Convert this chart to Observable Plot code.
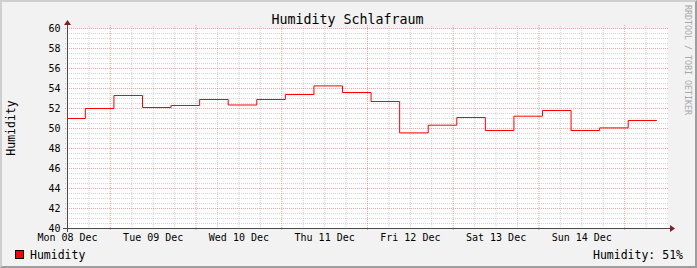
<!DOCTYPE html>
<html>
<head>
<meta charset="utf-8">
<script src="https://cdn.jsdelivr.net/npm/d3@7"></script>
<script src="https://cdn.jsdelivr.net/npm/@observablehq/plot@0.6"></script>
<style>
  body { margin: 0; background: #ffffff; }
  #chart { position: relative; width: 697px; height: 268px; background: #f2f2f2; overflow: hidden; }
  #chart svg { position: absolute; left: 0; top: 0; }
  #border { position: absolute; left: 0; top: 0; width: 697px; height: 268px; box-sizing: border-box;
    border-top: 2px solid #cfcfcf; border-left: 2px solid #cfcfcf;
    border-bottom: 2px solid #9e9e9e; border-right: 2px solid #9e9e9e; pointer-events: none; }
</style>
</head>
<body>
<div id="chart"><div id="border"></div></div>
<script>
// ---- data ----
const titleText = "Humidity Schlafraum";
const yLabelText = "Humidity";
const seriesName = "Humidity";
const currentText = "Humidity: 51%";
const watermark = "RRDTOOL / TOBI OETIKER";

const domainStart = "2008-12-08T12:00";
const domainEnd = "2008-12-15T12:00";

const stepStart = [
  "2008-12-08T12:00", "2008-12-08T17:00",
  "2008-12-09T01:00", "2008-12-09T09:00", "2008-12-09T17:00",
  "2008-12-10T01:00", "2008-12-10T09:00", "2008-12-10T17:00",
  "2008-12-11T01:00", "2008-12-11T09:00", "2008-12-11T17:00",
  "2008-12-12T01:00", "2008-12-12T09:00", "2008-12-12T17:00",
  "2008-12-13T01:00", "2008-12-13T09:00", "2008-12-13T17:00",
  "2008-12-14T01:00", "2008-12-14T09:00", "2008-12-14T17:00",
  "2008-12-15T01:00"
];
const humidity = [
  51.0, 52.0,
  53.3, 52.1, 52.3,
  52.9, 52.35, 52.9,
  53.4, 54.26, 53.6,
  52.7, 49.56, 50.33,
  51.1, 49.8, 51.23,
  51.8, 49.8, 50.06,
  50.8
];
const lastStepEnd = "2008-12-15T09:00";

const xTickTimes = [
  "2008-12-08T12:00", "2008-12-09T12:00", "2008-12-10T12:00", "2008-12-11T12:00",
  "2008-12-12T12:00", "2008-12-13T12:00", "2008-12-14T12:00"
];
const xTickLabels = ["Mon 08 Dec", "Tue 09 Dec", "Wed 10 Dec", "Thu 11 Dec", "Fri 12 Dec", "Sat 13 Dec", "Sun 14 Dec"];
const yTicks = [40, 42, 44, 46, 48, 50, 52, 54, 56, 58, 60];
const yMinorStep = 0.5;

// ---- build ----
const start = new Date(domainStart);
const end = new Date(domainEnd);
const points = stepStart.map((t, i) => ({t: new Date(t), v: humidity[i]}));
points.push({t: new Date(lastStepEnd), v: humidity[humidity.length - 1]});

const tickDates = xTickTimes.map(t => new Date(t));
const majorX = d3.timeDay.range(start, end);
const minorX = d3.timeHour.every(6).range(start, end).filter(d => d.getHours() !== 0);
const allMinorY = d3.range(yTicks[0], yTicks[yTicks.length - 1] + 1e-9, yMinorStep);
const minorY = allMinorY.filter(v => !yTicks.includes(v));

const font = "DejaVu Sans Mono";
const gridMinor = {stroke: "#8f8f8f", strokeOpacity: 0.38, strokeDasharray: "1,1"};
const gridMajor = {stroke: "#de4f4f", strokeOpacity: 0.5, strokeDasharray: "1,1"};

const plot = Plot.plot({
  width: 697,
  height: 268,
  marginLeft: 67,
  marginRight: 30,
  marginTop: 28,
  marginBottom: 40,
  style: {background: "transparent", fontFamily: font, fontSize: "10px", color: "#000", overflow: "visible"},
  x: {type: "time", domain: [start, end], label: null},
  y: {domain: [yTicks[0], yTicks[yTicks.length - 1]], label: null},
  marks: [
    Plot.frame({fill: "#ffffff", stroke: "none"}),
    Plot.ruleY(minorY, {...gridMinor, insetLeft: -2, insetRight: -2}),
    Plot.ruleX(minorX, {...gridMinor, insetTop: -2, insetBottom: -2}),
    Plot.ruleY(yTicks.slice(1), {...gridMajor, insetLeft: -2, insetRight: -2}),
    Plot.ruleX(majorX.filter(d => +d > +start), {...gridMajor, insetTop: -3, insetBottom: -3}),
    Plot.axisY({ticks: yTicks, tickSize: 0, tickPadding: 7, tickFormat: d => String(d), fontSize: 10, fill: "#000", label: null}),
    Plot.axisX({ticks: tickDates, tickSize: 0, tickPadding: 5, label: null,
      tickFormat: d => xTickLabels[tickDates.findIndex(t => +t === +d)], fontSize: 10, fill: "#000"}),
    Plot.line(points, {x: "t", y: "v", curve: "step-after", stroke: "#ff0000", strokeWidth: 1})
  ]
});

const chart = document.getElementById("chart");
chart.insertBefore(plot, chart.firstChild);

// axes with arrows, titles, legend
const xs = plot.scale("x"), ys = plot.scale("y");
const x0 = xs.range[0], x1 = xs.range[1];
const y0 = ys.range[0], y1 = ys.range[1];
const svg = d3.select(plot);
const g = svg.append("g");
g.append("line").attr("x1", x0 - 4).attr("x2", x1 + 4).attr("y1", y0 + 0.5).attr("y2", y0 + 0.5)
  .attr("stroke", "#4a4a4a").attr("stroke-width", 1);
g.append("line").attr("x1", x0 + 0.5).attr("x2", x0 + 0.5).attr("y1", y0 + 4).attr("y2", y1 - 4)
  .attr("stroke", "#4a4a4a").attr("stroke-width", 1);
g.append("polygon").attr("points", `${x1 + 3},${y0 - 3} ${x1 + 3},${y0 + 4} ${x1 + 8},${y0 + 0.5}`).attr("fill", "#801f1f");
g.append("polygon").attr("points", `${x0 - 3},${y1 - 3} ${x0 + 4},${y1 - 3} ${x0 + 0.5},${y1 - 8}`).attr("fill", "#801f1f");

const txt = (x, y, s, size, anchor, fill = "#000") => g.append("text").attr("x", x).attr("y", y)
  .attr("font-family", font).attr("font-size", size).attr("text-anchor", anchor).attr("fill", fill).text(s);

txt(347.5, 24.3, titleText, 13.3, "middle");
txt(0, 0, yLabelText, 11.5, "middle").attr("transform", "translate(15,128) rotate(-90)");
g.append("rect").attr("x", 15.5).attr("y", 250.5).attr("width", 8).attr("height", 8)
  .attr("fill", "#ff0000").attr("stroke", "#000").attr("stroke-width", 1);
txt(30, 258.5, seriesName, 11.5, "start");
txt(683, 258.5, currentText, 11.5, "end");
txt(0, 0, watermark, 8.3, "start", "#a8a8a8").attr("transform", "translate(685,5) rotate(90)");
</script>
</body>
</html>
